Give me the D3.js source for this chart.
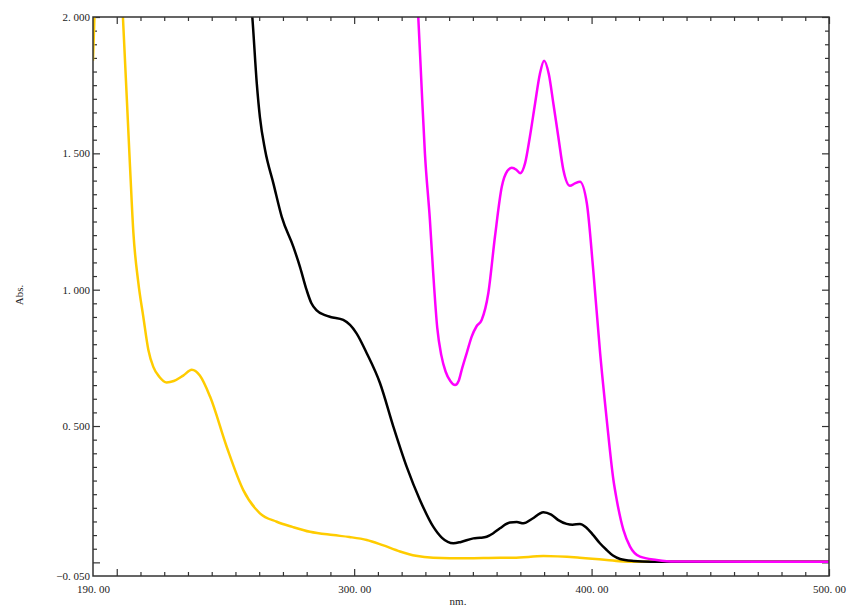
<!DOCTYPE html>
<html><head><meta charset="utf-8">
<script src="https://cdn.jsdelivr.net/npm/d3@7"></script>
<style>
body{margin:0;background:#fff}
svg text{font-family:"Liberation Serif","DejaVu Serif",serif;fill:#222}
</style>
</head><body><svg id="c" width="860" height="608"></svg>
<script>
// ---- data ----
const xLabelTicks = [190, 300, 400, 500];
const xMajorTicks = [200, 300, 400, 500];
const yLabelTicks = [-0.05, 0.5, 1.0, 1.5, 2.0];
const yMajorTicks = [0, 0.5, 1.0, 1.5, 2.0];

const yellowNm  = [190,190.6,191.5,195,200,202.6,205.6,207,209.1,211.2,213.3,215.4,218,221,224,228,231.6,235,239.3,246.3,253.3,260.3,267.4,274,281.4,291.2,298,305.3,312,319.3,326,333.3,347.4,361.4,367,379.7,395,406.4,413.4,420,440,500];
const yellowAbs = [1.84,2.0,2.2,2.6,2.4,2.0,1.45,1.21,1.025,0.90,0.78,0.717,0.68,0.66,0.665,0.685,0.706,0.685,0.608,0.424,0.265,0.18,0.149,0.13,0.112,0.10,0.093,0.082,0.063,0.04,0.024,0.017,0.015,0.017,0.017,0.023,0.017,0.009,0.003,0.002,0.002,0.002];

const blackNm  = [250,257.1,259,260.3,262.5,266,269.5,274.4,277.2,280,282,284.2,287.7,290,295.4,301,305.3,310.9,316.5,322.1,327.7,333.3,337,341.8,345,350.2,353,355.8,358.6,361.4,365.6,368.5,371.3,375,379.7,383,386,389.5,392,395.1,397.5,400.7,403.5,406.4,409,412,417.6,425,500];
const blackAbs = [2.4,2.0,1.755,1.633,1.511,1.389,1.267,1.157,1.083,0.998,0.95,0.924,0.907,0.90,0.889,0.84,0.767,0.657,0.498,0.351,0.229,0.131,0.09,0.07,0.075,0.088,0.09,0.094,0.107,0.125,0.146,0.148,0.143,0.16,0.184,0.175,0.155,0.141,0.138,0.141,0.13,0.10,0.07,0.045,0.025,0.0125,0.005,0.002,0.002];

const magentaNm  = [322,327,328.4,329.8,331.9,333.3,335,336.7,338.5,340.5,342.5,344,345.3,347.5,349.5,351.5,353.7,356.5,359.3,362.2,364.5,366.4,368.3,369.9,372,374,376.2,378.2,380,382,383.9,386,388.1,390.9,393,395.1,398,400.7,403.6,406.4,409.2,410.6,413.4,416.2,420.4,427.4,435,500];
const magentaAbs = [2.4,2.0,1.744,1.5,1.256,1.06,0.86,0.76,0.70,0.665,0.65,0.665,0.706,0.77,0.828,0.865,0.889,0.987,1.194,1.378,1.435,1.447,1.44,1.427,1.464,1.56,1.683,1.79,1.84,1.79,1.683,1.56,1.44,1.381,1.39,1.396,1.317,1.072,0.767,0.522,0.302,0.229,0.119,0.058,0.021,0.009,0.003,0.002];

const seriesColors = {yellow:"#FFCC00", black:"#000000", magenta:"#FF00FF"};

// ---- chart ----
const svg = d3.select("#c");
const L = 93, R = 829, T = 17, B = 576;
const x = d3.scaleLinear([190, 500], [L, R]);
const y = d3.scaleLinear([-0.05, 2.0], [B, T]);

svg.append("defs").append("clipPath").attr("id","clip")
  .append("rect").attr("x",L).attr("y",T).attr("width",R-L).attr("height",B-T);

const xMinor = d3.range(200, 500, 10).filter(v => !xMajorTicks.includes(v));
const yMinor = d3.range(-0.05, 2.0, 0.05).map(v => +v.toFixed(2)).filter(v => v > -0.05 && !yMajorTicks.some(m => Math.abs(m - v) < 1e-6));

function tickAxis(axisFn, vals, size, transform) {
  const g = svg.append("g").attr("transform", transform)
    .call(axisFn.tickValues(vals).tickSize(size).tickSizeOuter(0).tickFormat(""));
  g.select(".domain").remove();
  g.selectAll("line").attr("stroke","#333").attr("stroke-width",1.2);
  return g;
}
// inward ticks on all four sides
tickAxis(d3.axisBottom(x), xMinor, -4, `translate(0,${B})`);
tickAxis(d3.axisBottom(x), xMajorTicks, -7, `translate(0,${B})`);
tickAxis(d3.axisTop(x), xMinor, -4, `translate(0,${T})`);
tickAxis(d3.axisTop(x), xMajorTicks, -7, `translate(0,${T})`);
tickAxis(d3.axisLeft(y), yMinor, -4, `translate(${L},0)`);
tickAxis(d3.axisLeft(y), yMajorTicks, -7, `translate(${L},0)`);
tickAxis(d3.axisRight(y), yMinor, -4, `translate(${R},0)`);
tickAxis(d3.axisRight(y), yMajorTicks, -7, `translate(${R},0)`);

// labels
const fx = d => d3.format(".2f")(d).replace(".", ". ");
const fy = d => d3.format(".3f")(d).replace(".", ". ");
const gxl = svg.append("g").attr("transform", `translate(0,${B})`)
  .call(d3.axisBottom(x).tickValues(xLabelTicks).tickSize(0).tickPadding(9).tickFormat(fx));
gxl.select(".domain").remove();
gxl.selectAll("text").attr("font-size", 11).attr("font-family", null);
const gyl = svg.append("g").attr("transform", `translate(${L},0)`)
  .call(d3.axisLeft(y).tickValues(yLabelTicks).tickSize(0).tickPadding(3).tickFormat(fy));
gyl.select(".domain").remove();
gyl.selectAll("text").attr("font-size", 11).attr("font-family", null);

// curves
const line = d3.line().x(d => x(d[0])).y(d => y(d[1])).curve(d3.curveMonotoneX);
const series = [
  {nm: yellowNm, abs: yellowAbs, color: seriesColors.yellow},
  {nm: blackNm, abs: blackAbs, color: seriesColors.black},
  {nm: magentaNm, abs: magentaAbs, color: seriesColors.magenta}
];
const gp = svg.append("g").attr("clip-path","url(#clip)");
series.forEach(s => {
  gp.append("path").datum(d3.zip(s.nm, s.abs))
    .attr("d", line).attr("fill","none")
    .attr("stroke", s.color).attr("stroke-width", 2.5)
    .attr("stroke-linejoin","round");
});

// frame
svg.append("rect").attr("x",L).attr("y",T).attr("width",R-L).attr("height",B-T)
  .attr("fill","none").attr("stroke","#333").attr("stroke-width",1.5);

// axis titles
svg.append("text").attr("transform","translate(23,295) rotate(-90)")
  .attr("text-anchor","middle").attr("font-size",11).text("Abs.");
svg.append("text").attr("x",458).attr("y",605)
  .attr("text-anchor","middle").attr("font-size",11).text("nm.");
</script></body></html>
